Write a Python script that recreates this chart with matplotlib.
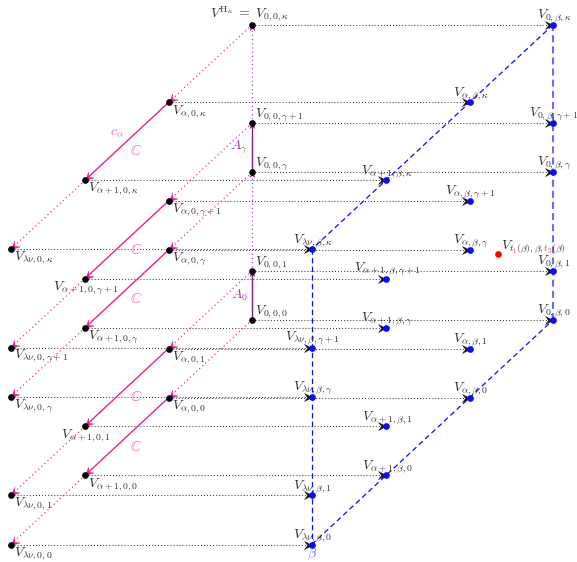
import numpy as np
import matplotlib
matplotlib.use("Agg")
import matplotlib.pyplot as plt
from matplotlib.path import Path
from matplotlib.markers import MarkerStyle
from matplotlib.transforms import Affine2D, Bbox

plt.rcParams['mathtext.fontset'] = 'cm'
plt.rcParams['lines.scale_dashes'] = False

# lattice of the diagram: first index (depth), second (0 or beta), third (height)
a_keys = ['0', r'\alpha', r'\alpha+1', r'\lambda\nu']
a_depth = [0, 1, 2, 2.89]
c_keys = ['0', '1', r'\gamma', r'\gamma+1', r'\kappa']
c_height = [0, 1, 3, 4, 6.0]

# labels of the front points that sit centred below the point
below_center = [(r'\alpha+1', r'\gamma+1'), (r'\alpha+1', '1')]

# extra point V_{t1(beta), beta, t3(beta)}
t_point = (0.66, 1, 2.38)  # depth, beta, height (approx)

# projection (pixels)
X0, Y0 = 252, 320
DX, DY = -83.5, 77.7
HU = 49.2
BW = 301

FS = 10
INK = '#333333'
PINK = '#ec1e96'
PINK_TXT = '#f262b4'
PURPLE = '#7d1a85'
PURPLE_TXT = '#a03aa6'
BLUE = '#0a0aff'


def proj(d, b, h):
    return X0 + b * BW + d * DX, Y0 - h * HU + d * DY


def P(a, b, c):
    return proj(a_depth[a_keys.index(a)], b, c_height[c_keys.index(c)])


stealth = Path([(0, 0), (-1, 0.5), (-0.6, 0), (-1, -0.5), (0, 0)],
               [Path.MOVETO, Path.LINETO, Path.LINETO, Path.LINETO, Path.CLOSEPOLY])


def arrowhead(ax, p_from, p_to, color, length_px, z=4):
    # y axis is inverted -> flip dy for display angle
    ang = np.degrees(np.arctan2(-(p_to[1] - p_from[1]), p_to[0] - p_from[0]))
    m = MarkerStyle(stealth, transform=Affine2D().rotate_deg(ang))
    ms = 2 * length_px * 72 / 100
    ax.plot([p_to[0]], [p_to[1]], marker=m, ms=ms, color=color, mec=color,
            mew=0.3, ls='none', zorder=z)


fig = plt.figure(figsize=(5.77, 5.62), dpi=100)
ax = fig.add_axes([0, 0, 1, 1])
ax.set_xlim(0, 577)
ax.set_ylim(562, 0)
ax.axis('off')

dot_ls = (0, (0.7, 1.5))

# horizontal dotted connections b=0 -> b=beta
for a in a_keys:
    for c in c_keys:
        p0 = P(a, 0, c)
        p1 = P(a, 1, c)
        ax.plot([p0[0], p1[0]], [p0[1], p1[1]], color=INK, lw=0.75, ls=dot_ls,
                dash_capstyle='butt', zorder=1)
        arrowhead(ax, p0, p1, '#111111', 8)

# pink depth connections
for c in c_keys:
    p0, pa, pa1, pl = (P(a, 0, c) for a in a_keys)
    ax.plot([p0[0], pa[0]], [p0[1], pa[1]], color=PINK, lw=0.9, ls=(0, (0.8, 2.2)), zorder=2)
    arrowhead(ax, p0, pa, PINK, 8)
    ax.plot([pa[0], pa1[0]], [pa[1], pa1[1]], color=PINK, lw=1.0, zorder=2)
    arrowhead(ax, pa, pa1, PINK, 8)
    ax.plot([pa1[0], pl[0]], [pa1[1], pl[1]], color=PINK, lw=0.9, ls=(0, (0.8, 2.2)), zorder=2)
    arrowhead(ax, pa1, pl, PINK, 8)
    mx, my = (pa[0] + pa1[0]) / 2, (pa[1] + pa1[1]) / 2
    ax.text(mx + 9.5, my + 9.5, r'$\mathbb{C}$', color=PINK_TXT, fontsize=FS + 1,
            ha='center', va='center', math_fontfamily='stix', fontweight='bold')
    if c == r'\kappa':
        ax.text(mx - 9.5, my - 9, r'$c_\alpha$', color=PINK_TXT, fontsize=FS,
                ha='center', va='center')

# purple vertical
for lo, hi, solid in [('0', '1', True), ('1', r'\gamma', False),
                      (r'\gamma', r'\gamma+1', True), (r'\gamma+1', r'\kappa', False)]:
    p0, p1 = P('0', 0, lo), P('0', 0, hi)
    if solid:
        ax.plot([p0[0], p1[0]], [p0[1], p1[1]], color=PURPLE, lw=1.0, zorder=2)
        name = r'$A_0$' if lo == '0' else r'$A_\gamma$'
        ax.text(p0[0] - 13, (p0[1] + p1[1]) / 2, name, color=PURPLE_TXT, fontsize=FS,
                ha='center', va='center')
    else:
        ax.plot([p0[0], p1[0]], [p0[1], p1[1]], color='#a040a8', lw=0.9,
                ls=(0, (0.8, 2.2)), zorder=2)
    arrowhead(ax, p0, p1, PURPLE, 5)

# blue dashed frame
corners = [P('0', 1, r'\kappa'), P(r'\lambda\nu', 1, r'\kappa'),
           P(r'\lambda\nu', 1, '0'), P('0', 1, '0')]
for i in range(3):
    p0, p1 = corners[i], corners[i + 1]
    ax.plot([p0[0], p1[0]], [p0[1], p1[1]], color=BLUE, lw=0.9, ls=(0, (3.8, 2.4)), zorder=1.5)
p0, p1 = corners[3], corners[0]
ax.plot([p0[0], p1[0]], [p0[1], p1[1]], color='#6a6aff', lw=1.5, ls=(0, (5, 3)), zorder=1.5)

# points and labels
for a in a_keys:
    for c in c_keys:
        x, y = P(a, 0, c)
        ax.plot([x], [y], 'o', color='black', ms=3.8, zorder=5)
        s = r'$V_{%s,0,%s}$' % (a, c)
        if a == '0' and c == r'\kappa':
            ax.text(x - 2, y - 7, r'$V^{\mathrm{H}_\kappa}\;=\;V_{0,0,\kappa}$', color=INK,
                    fontsize=FS, ha='center', va='baseline')
        elif a == '0':
            ax.text(x + 3, y - 6, s, color=INK, fontsize=FS, ha='left', va='baseline')
        elif (a, c) in below_center:
            ax.text(x + 1, y + 12, s, color=INK, fontsize=FS, ha='center', va='baseline')
        else:
            ax.text(x + 3, y + 11, s, color=INK, fontsize=FS, ha='left', va='baseline')

        x, y = P(a, 1, c)
        ax.plot([x], [y], 'o', color=BLUE, ms=3.8, zorder=5)
        ax.text(x + 1, y - 7, r'$V_{%s,\beta,%s}$' % (a, c), color=INK, fontsize=FS,
                ha='center', va='baseline')

bx, by = P(r'\lambda\nu', 1, '0')
ax.text(bx, by + 12, r'$\beta$', color='#7070ff', fontsize=FS, ha='center', va='baseline')

# red point with partly coloured label
rx, ry = proj(*t_point)
ax.plot([rx], [ry], 'o', color='red', ms=3.8, zorder=5)
full = r'$V_{t_1(\beta),\beta,t_3(\beta)}$'
prefixes = [r'$V$', r'$V_{t_1}$', r'$V_{t_1(\beta),\beta,}$', r'$V_{t_1(\beta),\beta,t_3}$']
lx, ly = rx + 3, ry - 6
fig.canvas.draw()
renderer = fig.canvas.get_renderer()
edges = []
for pre in prefixes:
    t = ax.text(lx, ly, pre, fontsize=FS, ha='left', va='baseline')
    edges.append(t.get_window_extent(renderer).x1)
    t.remove()
tfull = ax.text(lx, ly, full, fontsize=FS, ha='left', va='baseline')
bb = tfull.get_window_extent(renderer)
tfull.remove()
xs = [bb.x0 - 2] + edges + [bb.x1 + 2]
for i in range(len(xs) - 1):
    col = '#ff3333' if i in (1, 3) else INK
    t = ax.text(lx, ly, full, fontsize=FS, ha='left', va='baseline', color=col)
    t.set_clip_box(Bbox([[xs[i], bb.y0 - 5], [xs[i + 1], bb.y1 + 5]]))
    t.set_clip_on(True)

fig.savefig('out.png', dpi=100)
